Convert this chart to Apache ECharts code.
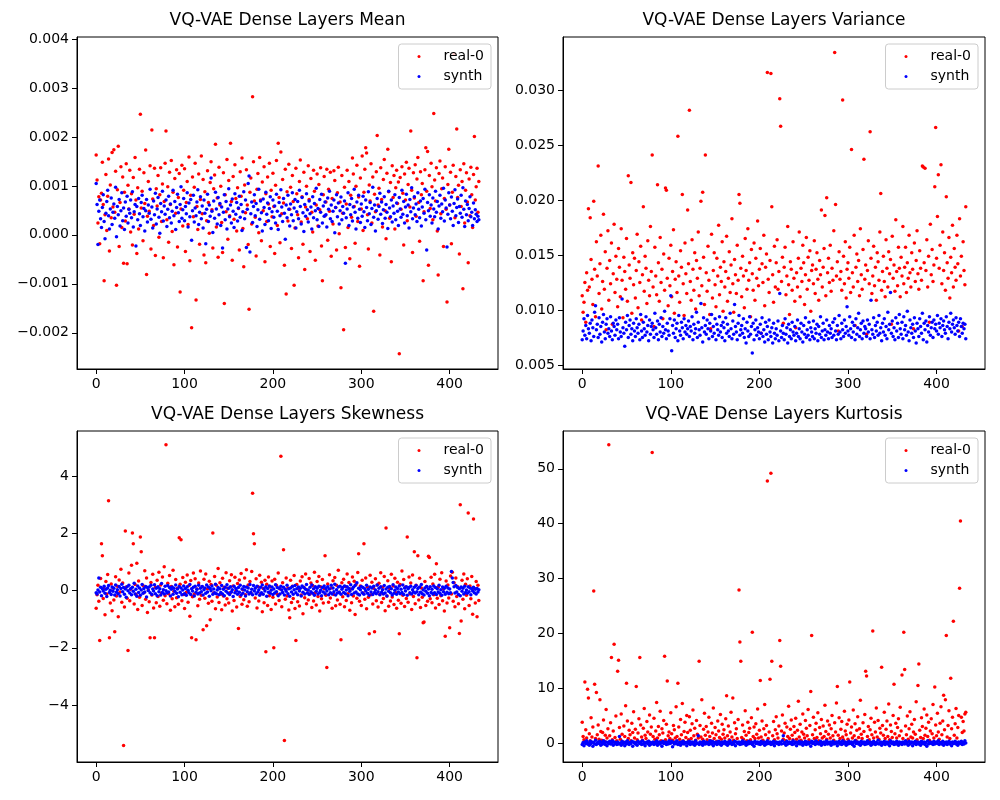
<!DOCTYPE html>
<html>
<head>
<meta charset="utf-8">
<script src="https://cdn.jsdelivr.net/npm/echarts@6/dist/echarts.min.js"></script>
<style>
  html, body { margin: 0; padding: 0; background: #fff; }
  #chart { width: 1000px; height: 800px; }
</style>
</head>
<body>
<div id="chart"></div>
<script>
// per-layer statistics, index = layer number
const meanReal = [
  0.00163, 0.00112, 0.00024, 0.00078, -0.00018, 0.00071, 0.00085, 0.00148, 0.00062, -0.00094, 0.00041, 0.00123, 0.00009, 0.00079, 0.00155, -0.00033, 0.00102, 0.00035, 0.00168, 0.00057,
  0.00174, 0.00046, 0.0013, -0.00103, 0.00092, 0.00181, -0.00024, 0.00066, 0.00139, 0.00015, 0.00118, -0.00058, 0.00087, 0.00028, 0.00145, -0.00059, 0.00101, 0.00053, 0.00132, 0.00006,
  0.00084, -0.00021, 0.00117, 0.00042, 0.00158, 0.00071, -0.00038, 0.00096, 0.00012, 0.00134, 0.00246, 0.00055, 0.00089, -0.00012, 0.00127, 0.00064, 0.00173, -0.00081, 0.00038, 0.00109,
  0.00048, 0.00141, -0.00029, 0.00214, 0.00073, 0.00019, 0.00136, -0.00042, 0.00094, 0.00059, 0.00121, -0.00005, 0.00082, 0.00137, 0.00027, 0.00104, -0.00047, 0.00068, 0.00146, 0.00212,
  0.00031, 0.00098, -0.00015, 0.00128, 0.00062, 0.00152, 0.00007, 0.00087, -0.00061, 0.00115, 0.00044, 0.00133, -0.00025, 0.00076, 0.00125, -0.00117, 0.00053, 0.00142, 0.00018, 0.00091,
  0.00135, -0.00034, 0.00066, 0.00109, 0.00021, 0.00159, -0.00053, 0.00081, -0.0019, 0.00118, 0.00037, 0.00097, 0.00146, -0.00133, 0.00058, 0.00011, 0.00124, -0.00019, 0.00072, 0.00161,
  0.00043, 0.00113, -0.00041, 0.00088, -0.00057, 0.00029, 0.00131, 0.00066, 0.00003, 0.00107, 0.00149, 0.00051, -0.00027, 0.00094, 0.00122, 0.00185, 0.00016, 0.00075, -0.00046, 0.00138,
  0.00061, 0.00099, 0.00025, -0.00036, 0.00127, -0.0014, 0.00082, 0.00047, 0.00154, -0.00009, 0.00111, 0.00039, 0.00187, 0.00068, -0.00052, 0.00119, 0.00032, 0.00143, 0.00074, 0.00008,
  0.00096, 0.00054, -0.00031, 0.00129, 0.00079, 0.00157, 0.00013, -0.00065, 0.00102, 0.00045, 0.00133, 0.00061, -0.0002, -0.00152, 0.00087, 0.00116, 0.00022, 0.00282, 0.00149, 0.00069,
  0.00036, -0.00043, 0.00093, 0.00125, 0.00004, 0.00158, 0.00071, -0.00012, 0.00108, 0.00049, 0.00139, -0.00055, 0.00084, 0.00027, 0.00118, 0.00063, 0.00146, -0.00024, 0.00091, 0.00037,
  0.00126, 0.00058, -0.00038, 0.00101, 0.00152, 0.00019, 0.00187, 0.00076, -0.00016, 0.00169, 0.00043, 0.00113, 0.00065, -0.00062, 0.00134, -0.00121, 0.00088, 0.00028, 0.00144, 0.00052,
  0.00097, -0.00028, 0.00121, 0.00068, -0.00103, 0.00014, 0.00136, 0.00084, 0.00041, -0.00047, 0.00109, 0.00153, 0.00026, 0.00078, -0.00019, 0.00128, -0.00071, 0.00057, 0.00099, 0.00033,
  0.00141, 0.00072, -0.00034, 0.00115, 0.00046, 0.00006, 0.00132, 0.00089, -0.00052, 0.00061, 0.00124, 0.00018, 0.00103, 0.00051, 0.00137, -0.00023, -0.00094, 0.00082, 0.00119, 0.00039,
  0.00067, 0.00134, -0.00011, 0.00093, 0.00048, 0.00128, -0.00044, 0.00074, 0.00022, 0.00131, 0.00111, 0.00056, -0.00031, 0.00086, 0.00138, 0.00002, 0.00067, -0.00108, 0.00121, 0.00044,
  -0.00194, 0.00097, -0.00026, 0.00063, 0.00132, 0.00015, 0.00109, -0.00049, 0.00081, 0.00036, 0.00157, 0.00124, 0.00058, -0.00017, 0.00099, 0.00142, 0.00027, 0.00077, -0.00064, 0.00116,
  0.00053, 0.00161, 0.00009, 0.00087, 0.00134, 0.00178, 0.00167, 0.00041, -0.00029, 0.00102, 0.00069, 0.00145, 0.00024, 0.00118, -0.00156, 0.00083, 0.00047, 0.00129, 0.00203, 0.00061,
  0.00095, -0.00041, 0.00137, 0.00072, 0.00016, 0.00113, 0.00154, 0.00049, -0.00008, 0.00126, 0.00175, 0.00088, 0.00034, 0.00107, -0.00055, 0.00141, 0.00076, 0.00121, 0.00012, 0.00096,
  0.00132, 0.00064, 0.00108, -0.00243, 0.00117, 0.00052, 0.00139, 0.00085, -0.00021, 0.00124, 0.00071, 0.00148, 0.00029, 0.00103, 0.00136, 0.00057, 0.00212, 0.00091, -0.00036, 0.00127,
  0.00075, 0.00143, 0.00038, 0.00114, 0.00158, 0.00066, -0.00013, 0.00129, 0.00082, 0.00105, -0.00094, 0.00047, 0.00133, 0.00178, 0.00089, 0.0017, -0.00062, 0.00121, 0.00054, 0.00146,
  0.00098, 0.00031, 0.00248, 0.00112, 0.00069, 0.00137, 0.00008, -0.00082, 0.00125, 0.00151, 0.00043, 0.00094, 0.00116, -0.00024, 0.00074, 0.00139, 0.00052, -0.00137, 0.00103, 0.00175,
  0.00061, 0.00128, -0.00018, 0.00087, 0.00142, 0.0037, 0.00035, 0.00119, 0.00216, 0.00076, 0.00101, -0.00039, 0.00133, 0.00058, 0.00109, -0.0011, 0.00145, 0.00024, 0.00091, 0.00127,
  0.00067, -0.00057, 0.00114, 0.00039, 0.00138, 0.00082, 0.00015, 0.00123, 0.00201, 0.00071, 0.00098, 0.00136, 0.00046, 0.00109
];
const meanSynth = [
  0.00105, 0.00062, -0.0002, 0.00048, 0.00071, 0.00033, 0.00015, 0.00056, 0.00082, 0.00027, -0.00008, 0.00044, 0.00068, 0.00091, 0.00039, 0.00012, 0.00053, 0.00075, 0.00021, 0.00046,
  0.00063, 0.00034, 0.00097, -0.00004, 0.00058, 0.00041, 0.00072, 0.00018, 0.00049, 0.00086, 0.00029, 0.00055, 0.00011, 0.00067, 0.00038, 0.00079, 0.00024, 0.00052, 0.00044, 0.00071,
  0.00035, 0.00088, 0.00016, 0.00047, 0.00062, -0.00023, 0.00058, 0.00031, 0.00074, 0.00043, 0.00019, 0.00066, 0.00081, 0.00037, 0.00054, 0.00008, 0.00049, 0.00072, 0.00026, 0.00061,
  0.00044, 0.00093, 0.00032, 0.00057, 0.00014, 0.00069, 0.00041, 0.00085, 0.00022, 0.00053, 0.00076, 0.00036, 0.00003, 0.00064, 0.00047, 0.00089, 0.00028, 0.00059, 0.00042, 0.00071,
  0.00017, 0.00052, 0.00079, 0.00035, 0.00063, 0.00024, 0.00048, 0.00091, 0.00039, 0.00068, 0.00011, 0.00056, 0.00083, 0.00045, 0.00027, 0.00062, 0.00098, 0.00034, 0.00051, 0.00074,
  0.00029, 0.00058, 0.00043, 0.00086, 0.00016, 0.00065, 0.00037, 0.00072, -0.00011, 0.00049, 0.00081, 0.00026, 0.00055, 0.00039, 0.00067, 0.00092, 0.00021, 0.00046, 0.00078, 0.00033,
  0.00059, 0.00014, 0.00071, 0.00044, -0.00018, 0.00052, 0.00083, 0.00027, 0.00061, 0.00038, 0.00116, 0.00048, 0.00005, 0.00069, 0.00034, 0.00087, 0.00053, 0.00022, 0.00076, 0.00041,
  0.00064, 0.00019, 0.00057, -0.00027, 0.00046, 0.00082, 0.00031, 0.00068, 0.00012, 0.00053, 0.00094, 0.00037, 0.00061, 0.00024, 0.00073, 0.00048, 0.00015, 0.00084, 0.00042, 0.00066,
  0.00028, 0.00055, 0.00079, 0.00036, 0.00062, 0.00009, 0.00047, 0.00088, 0.00033, 0.00071, -0.00026, 0.00052, 0.00105, 0.0012, -0.00035, 0.00043, 0.00067, 0.00025, 0.00058, 0.00082,
  0.00039, 0.00064, 0.00017, 0.00051, 0.00093, 0.00032, 0.00069, 0.00045, 0.00008, 0.00073, 0.00056, 0.00021, 0.00087, 0.00042, 0.00065, 0.00029, 0.00054, 0.00078, 0.00013, 0.00047,
  0.00071, 0.00036, 0.00059, 0.00024, 0.00083, 0.00048, 0.00011, 0.00066, 0.00039, 0.00092, 0.00057, 0.00027, 0.00074, 0.00044, -0.00009, 0.00061, 0.00035, 0.00081, 0.00052, 0.00018,
  0.00063, 0.00041, 0.00086, 0.00029, 0.00055, 0.00072, 0.00014, 0.00047, 0.00068, 0.00033, 0.00091, 0.00058, 0.00022, 0.00076, 0.00045, 0.00007, 0.00062, 0.00038, 0.00084, 0.00051,
  0.00026, 0.00069, 0.00043, 0.00057, 0.00012, 0.00078, 0.00035, 0.00064, 0.00049, 0.00095, 0.00031, 0.00054, 0.00017, 0.00072, 0.00046, 0.00083, 0.00024, 0.00059, 0.00038, 0.00067,
  0.00041, 0.00016, 0.00075, 0.00052, 0.00089, 0.00033, 0.00061, 0.00027, 0.00048, 0.00071, 0.00004, 0.00056, 0.00082, 0.00037, 0.00065, 0.00022, 0.00049, 0.00077, 0.00031, 0.00058,
  0.00044, 0.00069, -0.00058, 0.00035, 0.00053, 0.00086, 0.00019, 0.00062, 0.00041, 0.00074, 0.00028, 0.00057, 0.00093, 0.00046, 0.00012, 0.00067, 0.00034, 0.00081, 0.00052, 0.00025,
  0.00063, 0.00038, 0.00079, 0.00047, 0.00015, 0.00071, 0.00056, 0.00029, 0.00088, 0.00043, 0.00066, 0.00021, 0.00054, 0.00097, 0.00036, 0.00061, 0.00008, 0.00049, 0.00074, 0.00032,
  0.00058, 0.00085, 0.00042, 0.00067, 0.00023, 0.00051, 0.00078, 0.00034, 0.00062, 0.00046, 0.00013, 0.00089, 0.00055, 0.00037, 0.00071, 0.00026, 0.00059, 0.00044, 0.00082, 0.00031,
  0.00065, 0.00048, 0.00019, 0.00076, 0.00053, 0.00036, 0.00091, 0.00042, 0.00068, 0.00024, 0.00057, 0.00083, 0.00039, 0.00061, 0.00014, 0.00072, 0.00047, 0.00096, 0.00033, 0.00055,
  0.00078, 0.00041, 0.00063, 0.00027, 0.00086, 0.00052, 0.00035, 0.00069, 0.00018, 0.00057, 0.00074, 0.00044, 0.00093, 0.00031, -0.00031, 0.00066, 0.00049, 0.00082, 0.00038, 0.00061,
  0.00024, 0.00075, 0.00053, 0.00037, 0.00089, 0.00046, 0.00068, 0.00012, 0.00059, 0.00081, 0.00034, 0.00063, 0.00047, 0.00095, 0.00028, 0.00071, 0.00055, -0.00025, 0.00042, 0.00086,
  0.00061, 0.00033, 0.00077, 0.00048, 0.00019, 0.00064, 0.00092, 0.00039, 0.00056, 0.00073, 0.00025, 0.00058, 0.00044, 0.00081, 0.00036, 0.00096, 0.00052, 0.00017, 0.00069, 0.00041,
  0.00062, 0.00029, 0.00054, 0.00078, 0.00037, 0.00046, 0.00019, 0.00065, 0.00033, 0.00051, 0.00042, 0.00027, 0.00038, 0.00031
];
const varReal = [
  0.0113, 0.0098, 0.0107, 0.0125, 0.0089, 0.0134, 0.0118, 0.0192, 0.0121, 0.0184, 0.0146, 0.0128, 0.0105, 0.0199, 0.0137, 0.0094, 0.0162, 0.0131, 0.0231, 0.0115,
  0.0142, 0.0168, 0.0101, 0.0126, 0.0187, 0.0119, 0.0153, 0.0082, 0.0138, 0.0172, 0.0109, 0.0145, 0.0124, 0.0161, 0.0087, 0.0133, 0.0178, 0.0116, 0.0149, 0.0128,
  0.0103, 0.0156, 0.0139, 0.0112, 0.0174, 0.0127, 0.0093, 0.0148, 0.0135, 0.0119, 0.0165, 0.0108, 0.0222, 0.0141, 0.0129, 0.0216, 0.0097, 0.0152, 0.0123, 0.0147,
  0.0111, 0.0136, 0.0169, 0.0102, 0.0144, 0.0125, 0.0158, 0.0091, 0.0132, 0.0194, 0.0117, 0.0149, 0.0138, 0.0106, 0.0163, 0.0127, 0.0113, 0.0176, 0.0135, 0.0241,
  0.0121, 0.0085, 0.0157, 0.0131, 0.0114, 0.0214, 0.0143, 0.0108, 0.0166, 0.0125, 0.0137, 0.0092, 0.0151, 0.0118, 0.0211, 0.0209, 0.0129, 0.0104, 0.0147, 0.0122,
  0.0159, 0.0112, 0.0135, 0.0173, 0.0097, 0.0128, 0.0144, 0.0116, 0.0258, 0.0131, 0.0107, 0.0154, 0.0139, 0.0205, 0.0124, 0.0095, 0.0161, 0.0133, 0.0115, 0.0191,
  0.0142, 0.02815, 0.0126, 0.0109, 0.0164, 0.0137, 0.0118, 0.0152, 0.0101, 0.0145, 0.0129, 0.0171, 0.0113, 0.0138, 0.0199, 0.0122, 0.0207, 0.0148, 0.0105, 0.0241,
  0.0134, 0.0117, 0.0158, 0.0127, 0.0096, 0.0083, 0.0169, 0.0111, 0.0136, 0.0152, 0.0123, 0.0103, 0.0147, 0.0131, 0.0177, 0.0114, 0.0139, 0.0126, 0.0162, 0.0099,
  0.0144, 0.0121, 0.0135, 0.0167, 0.0108, 0.0129, 0.0153, 0.0116, 0.0141, 0.0183, 0.0124, 0.0098, 0.0146, 0.0132, 0.0115, 0.0159, 0.0127, 0.0205, 0.0197, 0.0138,
  0.0112, 0.0149, 0.0131, 0.0102, 0.0165, 0.0136, 0.0119, 0.0174, 0.0127, 0.0143, 0.0094, 0.0155, 0.0133, 0.0118, 0.0161, 0.0109, 0.0147, 0.0129, 0.0181, 0.0122,
  0.0137, 0.0156, 0.0079, 0.0142, 0.0125, 0.0168, 0.0104, 0.0139, 0.0151, 0.0316, 0.0128, 0.0116, 0.0145, 0.0315, 0.0194, 0.0132, 0.0107, 0.0158, 0.0121, 0.0143,
  0.0164, 0.0119, 0.0135, 0.0292, 0.0267, 0.0126, 0.0148, 0.0088, 0.0139, 0.0157, 0.0114, 0.0131, 0.0176, 0.0123, 0.0096, 0.0144, 0.0137, 0.0118, 0.0162, 0.0129,
  0.0108, 0.0084, 0.0134, 0.0121, 0.0147, 0.0171, 0.0112, 0.0138, 0.0126, 0.0159, 0.0143, 0.0105, 0.0132, 0.0166, 0.0119, 0.0148, 0.0127, 0.0154, 0.0099, 0.0136,
  0.0141, 0.0124, 0.0163, 0.0115, 0.0137, 0.0152, 0.0128, 0.0109, 0.0145, 0.0132, 0.0191, 0.0121, 0.0139, 0.0156, 0.0186, 0.0113, 0.0202, 0.0134, 0.0147, 0.0125,
  0.0159, 0.0117, 0.0138, 0.0127, 0.0172, 0.0334, 0.0196, 0.0131, 0.0144, 0.0081, 0.0153, 0.0128, 0.0135, 0.0118, 0.0291, 0.0149, 0.0124, 0.0162, 0.0111, 0.0137,
  0.0143, 0.0129, 0.0157, 0.0116, 0.0246, 0.0134, 0.0121, 0.0168, 0.0086, 0.0139, 0.0151, 0.0126, 0.0145, 0.0113, 0.0174, 0.0132, 0.0119, 0.0155, 0.0237, 0.0128,
  0.0141, 0.0078, 0.0136, 0.0163, 0.0124, 0.0262, 0.0147, 0.0115, 0.0131, 0.0158, 0.0122, 0.0139, 0.0109, 0.0152, 0.0144, 0.0127, 0.0171, 0.0206, 0.0118, 0.0135,
  0.0149, 0.0126, 0.0112, 0.0164, 0.0138, 0.0121, 0.0153, 0.0133, 0.0146, 0.0087, 0.0167, 0.0129, 0.0141, 0.0117, 0.0182, 0.0135, 0.0122, 0.0157, 0.0138, 0.0112,
  0.0148, 0.0131, 0.0176, 0.0124, 0.0139, 0.0157, 0.0116, 0.0143, 0.0129, 0.0168, 0.0134, 0.0121, 0.0152, 0.0137, 0.0083, 0.0161, 0.0126, 0.0145, 0.0172, 0.0133,
  0.0119, 0.0154, 0.0138, 0.0127, 0.0231, 0.0230, 0.0143, 0.0229, 0.0136, 0.0164, 0.0121, 0.0149, 0.0089, 0.0178, 0.0132, 0.0155, 0.0126, 0.0141, 0.0212, 0.0266,
  0.0147, 0.0185, 0.0223, 0.0138, 0.0159, 0.0232, 0.0124, 0.0171, 0.0136, 0.0152, 0.0118, 0.0203, 0.0143, 0.0129, 0.0166, 0.0111, 0.0148, 0.0134, 0.0177, 0.0121,
  0.0156, 0.0139, 0.0127, 0.0168, 0.0142, 0.0081, 0.0183, 0.0131, 0.0149, 0.0085, 0.0162, 0.0136, 0.0123, 0.0194
];
const varSynth = [
  0.0073, 0.0081, 0.0092, 0.0077, 0.0086, 0.0074, 0.0095, 0.0083, 0.0079, 0.0088, 0.0072, 0.0091, 0.0084, 0.0076, 0.0098, 0.0104, 0.0082, 0.0087, 0.0075, 0.0093,
  0.0078, 0.0085, 0.0071, 0.0089, 0.0096, 0.0080, 0.0074, 0.0087, 0.0092, 0.0079, 0.0083, 0.0076, 0.0094, 0.0081, 0.0073, 0.0088, 0.0085, 0.0077, 0.0091, 0.0082,
  0.0087, 0.0074, 0.0093, 0.0080, 0.0076, 0.0110, 0.0084, 0.0079, 0.0067, 0.0089, 0.0082, 0.0095, 0.0075, 0.0086, 0.0091, 0.0078, 0.0083, 0.0072, 0.0088, 0.0081,
  0.0076, 0.0092, 0.0084, 0.0079, 0.0087, 0.0073, 0.0096, 0.0081, 0.0075, 0.0089, 0.0083, 0.0077, 0.0094, 0.0080, 0.0086, 0.0072, 0.0091, 0.0078, 0.0085, 0.0088,
  0.0082, 0.0075, 0.0097, 0.0084, 0.0078, 0.0090, 0.0073, 0.0087, 0.0080, 0.0093, 0.0076, 0.0085, 0.0079, 0.0099, 0.0082, 0.0074, 0.0088, 0.0081, 0.0077, 0.0092,
  0.0113, 0.0063, 0.0086, 0.0079, 0.0091, 0.0075, 0.0083, 0.0088, 0.0072, 0.0095, 0.0081, 0.0077, 0.0089, 0.0084, 0.0074, 0.0092, 0.0080, 0.0086, 0.0078, 0.0083,
  0.0090, 0.0076, 0.0085, 0.0081, 0.0094, 0.0073, 0.0087, 0.0079, 0.0083, 0.0098, 0.0075, 0.0089, 0.0082, 0.0077, 0.0106, 0.0084, 0.0071, 0.0093, 0.0080, 0.0086,
  0.0078, 0.0091, 0.0083, 0.0074, 0.0088, 0.0081, 0.0096, 0.0076, 0.0085, 0.0079, 0.0092, 0.0073, 0.0087, 0.0082, 0.0077, 0.0094, 0.0080, 0.0086, 0.0075, 0.0089,
  0.0084, 0.0072, 0.0093, 0.0079, 0.0087, 0.0081, 0.0076, 0.0097, 0.0083, 0.0074, 0.0090, 0.0078, 0.0105, 0.0085, 0.0080, 0.0073, 0.0088, 0.0095, 0.0077, 0.0082,
  0.0086, 0.0079, 0.0092, 0.0075, 0.0083, 0.0070, 0.0089, 0.0081, 0.0076, 0.0094, 0.0078, 0.0085, 0.0061, 0.0088, 0.0073, 0.0082, 0.0091, 0.0077, 0.0084, 0.0080,
  0.0074, 0.0087, 0.0079, 0.0093, 0.0076, 0.0082, 0.0071, 0.0089, 0.0078, 0.0085, 0.0073, 0.0091, 0.0080, 0.0076, 0.0084, 0.0070, 0.0088, 0.0079, 0.0074, 0.0083,
  0.0077, 0.0090, 0.0072, 0.0115, 0.0081, 0.0075, 0.0086, 0.0079, 0.0073, 0.0092, 0.0078, 0.0084, 0.0070, 0.0087, 0.0076, 0.0082, 0.0074, 0.0089, 0.0080, 0.0077,
  0.0085, 0.0072, 0.0079, 0.0091, 0.0076, 0.0083, 0.0074, 0.0088, 0.0080, 0.0071, 0.0086, 0.0078, 0.0093, 0.0075, 0.0082, 0.0077, 0.0089, 0.0073, 0.0084, 0.0080,
  0.0076, 0.0090, 0.0074, 0.0083, 0.0079, 0.0087, 0.0072, 0.0085, 0.0078, 0.0094, 0.0075, 0.0081, 0.0088, 0.0073, 0.0082, 0.0077, 0.0091, 0.0080, 0.0074, 0.0086,
  0.0079, 0.0083, 0.0075, 0.0089, 0.0077, 0.0092, 0.0081, 0.0073, 0.0086, 0.0078, 0.0095, 0.0080, 0.0074, 0.0088, 0.0082, 0.0076, 0.0091, 0.0079, 0.0085, 0.0103,
  0.0081, 0.0077, 0.0094, 0.0083, 0.0075, 0.0089, 0.0080, 0.0086, 0.0073, 0.0092, 0.0078, 0.0084, 0.0097, 0.0076, 0.0082, 0.0088, 0.0074, 0.0090, 0.0079, 0.0085,
  0.0083, 0.0076, 0.0091, 0.0080, 0.0087, 0.0074, 0.0109, 0.0082, 0.0078, 0.0093, 0.0075, 0.0086, 0.0081, 0.0089, 0.0077, 0.0095, 0.0079, 0.0084, 0.0072, 0.0088,
  0.0080, 0.0092, 0.0077, 0.0085, 0.0074, 0.0098, 0.0082, 0.0087, 0.0116, 0.0079, 0.0090, 0.0076, 0.0084, 0.0073, 0.0093, 0.0081, 0.0088, 0.0075, 0.0096, 0.0083,
  0.0078, 0.0089, 0.0074, 0.0094, 0.0082, 0.0086, 0.0077, 0.0099, 0.0080, 0.0072, 0.0091, 0.0084, 0.0079, 0.0087, 0.0075, 0.0093, 0.0081, 0.0070, 0.0088, 0.0083,
  0.0076, 0.0092, 0.0085, 0.0079, 0.0097, 0.0073, 0.0088, 0.0082, 0.0090, 0.0071, 0.0086, 0.0080, 0.0094, 0.0077, 0.0084, 0.0089, 0.0075, 0.0091, 0.0083, 0.0087,
  0.0081, 0.0095, 0.0078, 0.0088, 0.0084, 0.0092, 0.0076, 0.0086, 0.0090, 0.0082, 0.0079, 0.0094, 0.0085, 0.0074, 0.0089, 0.0083, 0.0097, 0.0080, 0.0087, 0.0091,
  0.0084, 0.0078, 0.0093, 0.0086, 0.0081, 0.0089, 0.0076, 0.0092, 0.0085, 0.0079, 0.0088, 0.0083, 0.0087, 0.0074
];
const skewReal = [
  -0.62, -0.15, 0.18, -0.38, -1.75, 0.42, 1.63, 1.21, -0.28, 0.07, -0.85, 0.31, -0.12, 0.56, 3.13, -1.65, -0.44, 0.23, -0.71, 0.09,
  -0.33, -1.44, 0.48, -0.19, 0.15, -0.92, 0.37, -0.05, 0.74, -0.41, 0.26, -5.41, -0.58, 2.08, 0.12, -0.27, -2.10, 0.61, -0.36, 0.04,
  0.88, 2.01, 1.63, -0.47, 0.21, -0.13, 0.95, -0.66, 0.33, -0.24, 1.87, 1.35, -0.52, 0.17, -0.08, 0.69, -0.31, 0.44, -0.77, 0.02,
  -0.39, -1.65, 0.28, -0.16, 0.57, -0.61, -1.65, 0.11, -0.43, 0.36, -0.21, 0.64, -0.55, 0.19, -0.09, 0.47, -0.34, 0.83, -0.18, 5.09,
  -0.46, 0.25, -0.11, 0.52, -0.69, 0.14, -0.29, 0.71, -0.03, -0.57, 0.38, -0.25, 0.08, -0.48, 1.84, 0.22, 1.77, -0.36, 0.45, -0.14,
  -0.63, 0.29, -0.06, 0.54, -0.41, 0.17, -0.9, 0.35, -1.65, -0.22, 0.61, -0.12, 0.41, -1.72, 0.05, -0.53, 0.26, -0.31, 0.68, -0.17,
  0.13, -1.37, 0.39, -0.27, 0.58, -1.23, 0.06, -0.45, 0.32, -1.02, 0.21, -0.38, 2.01, -0.09, 0.49, -0.64, 0.18, -0.23, 0.77, -0.42,
  0.27, -0.13, -0.67, 0.43, -0.19, 0.11, -0.51, 0.62, -0.29, 0.08, -0.44, 0.34, -0.07, 0.55, -0.72, 0.16, -0.35, 0.46, -0.02, -0.58,
  0.24, -1.33, 0.37, -0.21, 0.59, -0.48, 0.03, -0.32, 0.44, -0.15, 0.72, -0.55, 0.19, -0.39, 0.31, -0.08, 0.66, 3.40, 1.98, 1.63,
  -0.26, 0.41, -0.61, 0.14, -0.37, 0.53, -0.11, 0.29, -0.74, 0.07, -0.43, 0.36, -2.14, 0.22, -0.52, 0.47, -0.18, 0.12, -0.66, 0.33,
  -0.24, -2.0, 0.39, -0.47, 0.18, -0.13, 0.61, -0.35, 0.05, 4.69, -0.57, 0.27, 1.42, -5.24, -0.31, 0.44, -0.19, 0.09, -0.68, -0.95,
  0.36, -0.42, 0.15, -0.28, 0.52, -0.63, -1.75, 0.21, -0.39, 0.07, -0.54, 0.33, -0.16, 0.48, -0.81, 0.11, -0.25, 0.58, -0.46, 0.02,
  -0.33, 0.42, -0.12, 0.26, -0.59, 0.17, -0.37, 0.64, -0.08, -0.51, 0.31, -0.21, 0.49, -0.72, 0.13, -0.29, 0.38, -0.44, 0.06, 1.21,
  -0.17, -2.69, 0.23, -0.41, 0.55, -0.26, 0.09, -0.62, 0.34, -0.14, 0.45, -0.53, 0.18, -0.33, 0.71, -0.06, -0.48, -1.72, 0.27, -0.22,
  0.39, -0.57, 0.14, -0.35, 0.58, -0.11, 0.28, -0.69, 0.05, -0.43, 0.47, -0.19, 0.32, -0.84, 0.21, -0.27, 0.63, 1.28, -0.38, 0.16,
  -0.52, 0.36, -0.09, 1.63, -0.31, 0.44, -0.64, 0.12, -0.24, -1.51, 0.53, -0.15, 0.29, -0.47, 0.08, -1.44, 0.41, -0.36, 0.19, -0.58,
  0.25, -0.13, 0.62, -0.42, 0.11, -0.28, 0.49, -0.71, 2.18, -0.19, 0.34, -0.55, 0.07, -0.37, 0.57, -0.23, 0.16, -0.49, 0.43, -0.08,
  -0.62, 0.29, -0.34, -1.51, 0.21, -0.45, 0.68, -0.17, 0.38, -0.56, 0.12, -0.28, 1.87, -0.41, 0.47, -0.12, 0.26, -0.66, 0.54, -0.21,
  1.35, -0.46, 0.18, -2.35, 1.21, -0.33, 0.43, -0.59, 0.09, -0.24, -1.13, -1.1, 0.31, -0.52, 0.14, -0.38, 1.2, 1.15, -0.29, 0.46,
  -0.43, 0.23, -0.15, 0.57, -0.61, 0.93, -0.27, 0.11, -0.49, 0.39, -0.18, 0.62, -0.36, 0.05, -0.72, -1.6, 0.33, -0.44, 0.19, -0.26,
  -1.3, 0.51, -0.12, 0.64, -0.38, 0.27, -0.57, 0.44, -0.21, 0.13, -0.46, -1.5, 2.99, -1.07, 0.36, -0.31, 0.58, -0.64, 0.22, -0.17,
  0.41, 2.71, -0.52, 0.16, -0.29, 0.49, -0.83, 2.50, 0.07, -0.44, 0.31, -0.92, 0.18, -0.35
];
const skewSynth = [
  -0.08, -0.12, 0.02, 0.44, -0.05, 0.11, -0.18, 0.06, -0.02, 0.15, -0.1, 0.04, -0.21, 0.09, 0.17, -0.07, 0.01, -0.14, 0.12, -0.03,
  0.08, -0.16, 0.19, -0.06, 0.03, -0.11, 0.14, -0.19, 0.07, 0.22, -0.04, 0.1, -0.13, 0.05, -0.24, 0.13, -0.01, 0.18, -0.09, 0.06,
  -0.15, 0.11, -0.03, 0.25, -0.12, 0.04, -0.2, 0.16, -0.07, 0.09, -0.17, 0.02, 0.21, -0.1, 0.07, -0.05, 0.14, -0.23, 0.1, 0.0,
  0.12, -0.08, 0.18, -0.14, 0.05, -0.02, 0.2, -0.11, 0.08, -0.18, 0.13, -0.04, 0.06, -0.16, 0.24, -0.07, 0.03, -0.12, 0.15, -0.01,
  -0.09, 0.17, -0.05, 0.1, -0.19, 0.04, 0.12, -0.13, 0.08, -0.03, 0.19, -0.1, 0.05, -0.22, 0.14, -0.06, 0.09, -0.15, 0.02, 0.16,
  -0.11, 0.07, -0.17, 0.13, 0.01, -0.08, 0.21, -0.14, 0.06, -0.02, 0.11, -0.19, 0.15, -0.06, 0.04, -0.12, 0.18, -0.09, 0.08, -0.04,
  0.14, -0.16, 0.03, 0.09, -0.1, 0.19, -0.05, 0.12, -0.2, 0.07, -0.01, 0.16, -0.13, 0.05, -0.08, 0.22, -0.11, 0.02, 0.1, -0.15,
  0.06, -0.07, 0.17, -0.12, 0.04, -0.18, 0.11, -0.03, 0.2, -0.09, 0.08, -0.14, 0.13, -0.05, 0.03, -0.21, 0.15, -0.08, 0.07, -0.01,
  -0.13, 0.1, -0.06, 0.18, -0.16, 0.05, -0.1, 0.14, 0.02, -0.19, 0.12, -0.04, 0.09, -0.12, 0.21, -0.07, 0.04, -0.15, 0.17, -0.02,
  0.08, -0.11, 0.15, -0.05, 0.03, -0.17, 0.11, -0.08, 0.19, -0.13, 0.06, -0.02, 0.13, -0.2, 0.07, -0.06, 0.16, -0.1, 0.01, 0.12,
  -0.14, 0.05, -0.09, 0.2, -0.04, 0.1, -0.18, 0.08, -0.12, 0.15, 0.02, -0.07, 0.11, -0.16, 0.04, -0.03, 0.18, -0.11, 0.06, -0.2,
  0.09, -0.05, 0.14, -0.13, 0.03, 0.17, -0.08, 0.06, -0.15, 0.12, -0.02, 0.08, -0.19, 0.16, -0.06, 0.1, -0.12, 0.04, 0.21, -0.09,
  0.02, -0.14, 0.11, -0.04, 0.19, -0.1, 0.06, -0.17, 0.13, -0.03, 0.08, -0.12, 0.15, -0.07, 0.01, -0.18, 0.1, -0.05, 0.16, -0.11,
  0.07, -0.02, 0.13, -0.15, 0.05, -0.08, 0.18, -0.12, 0.09, -0.04, 0.22, -0.16, 0.03, -0.09, 0.12, -0.06, 0.15, -0.13, 0.04, 0.1,
  -0.07, 0.16, -0.11, 0.02, 0.13, -0.18, 0.07, -0.03, 0.2, -0.14, 0.05, 0.11, -0.09, 0.17, -0.05, 0.27, -0.12, 0.08, -0.16, 0.03,
  0.14, -0.08, 0.1, -0.13, 0.06, -0.02, 0.18, -0.1, 0.04, -0.17, 0.12, -0.05, 0.09, -0.14, 0.15, -0.07, 0.02, -0.11, 0.19, -0.04,
  0.08, -0.15, 0.13, -0.06, 0.03, -0.12, 0.17, -0.09, 0.05, -0.19, 0.11, -0.03, 0.14, -0.08, 0.06, -0.16, 0.2, -0.1, 0.01, 0.12,
  -0.13, 0.07, -0.05, 0.16, -0.11, 0.04, -0.07, 0.19, -0.14, 0.09, -0.02, 0.13, -0.17, 0.06, 0.1, -0.08, 0.15, -0.12, 0.03, -0.05,
  0.11, -0.09, 0.17, -0.04, 0.07, -0.15, 0.12, -0.06, 0.21, -0.11, 0.02, -0.16, 0.09, -0.03, 0.14, -0.1, 0.05, -0.18, 0.13, -0.07,
  0.04, -0.12, 0.16, -0.08, 0.1, -0.14, 0.06, -0.05, 0.18, -0.1, 0.03, -0.17, 0.12, -0.04, 0.08, -0.13, 0.15, -0.06, 0.09, -0.11,
  0.05, -0.08, 0.66, 0.44, 0.28, 0.13, -0.09, 0.17, -0.05, 0.1, -0.14, 0.06, -0.18, 0.12, -0.03, 0.08, -0.12, 0.15, -0.07, 0.02,
  -0.1, 0.13, -0.04, 0.09, -0.15, 0.06, -0.02, 0.11, -0.08, 0.04, -0.12, 0.07, -0.05, 0.03
];
const kurtReal = [
  3.8, 1.2, 0.6, 11.1, 2.4, 0.9, 9.8, 8.2, 1.7, 0.4, 4.6, 1.1, 2.9, 27.7, 10.7, 0.8, 9.2, 1.5, 3.3, 0.7,
  7.9, 2.1, 0.5, 1.9, 4.2, 0.3, 1.4, 6.1, 0.9, 2.6, 54.4, 1.3, 3.7, 15.6, 0.6, 2.2, 18.0, 1.0, 4.9, 0.4,
  13.1, 15.1, 2.8, 0.7, 5.3, 1.6, 0.2, 3.1, 1.2, 6.8, 10.9, 4.0, 0.8, 2.3, 1.5, 0.4, 3.6, 1.9, 5.7, 0.9,
  2.5, 10.3, 0.6, 1.8, 4.4, 15.6, 3.3, 1.1, 0.5, 2.7, 6.3, 1.4, 0.8, 3.9, 2.0, 0.3, 5.1, 1.6, 2.9, 53.0,
  1.2, 4.5, 0.7, 2.2, 7.4, 0.9, 3.0, 1.5, 5.8, 0.4, 2.6, 1.8, 4.1, 15.8, 0.6, 3.4, 11.3, 1.3, 2.0, 0.8,
  5.5, 1.7, 0.5, 3.2, 2.4, 0.9, 6.6, 1.2, 10.9, 2.9, 0.7, 4.3, 1.5, 7.2, 0.4, 2.1, 3.8, 1.0, 5.0, 1.9,
  0.6, 4.8, 2.3, 0.8, 3.5, 6.0, 1.3, 2.7, 0.5, 4.1, 1.6, 0.9, 14.9, 3.2, 1.1, 7.9, 0.7, 2.5, 5.4, 1.4,
  3.0, 0.6, 2.0, 4.7, 1.2, 0.4, 3.6, 1.8, 6.4, 0.8, 2.8, 1.5, 0.3, 4.0, 2.2, 1.0, 5.2, 0.7, 3.4, 1.6,
  2.4, 0.9, 4.4, 8.6, 1.3, 3.1, 0.6, 2.0, 5.6, 1.1, 8.2, 0.5, 3.7, 1.7, 2.6, 0.8, 4.3, 27.9, 18.4, 14.9,
  1.0, 3.3, 0.7, 2.1, 5.9, 1.4, 0.4, 3.8, 1.9, 2.7, 0.6, 4.6, 20.2, 1.2, 2.9, 0.8, 3.5, 1.6, 6.2, 0.9,
  2.3, 11.4, 1.1, 4.0, 0.5, 2.6, 7.0, 1.5, 3.2, 47.8, 0.8, 2.0, 11.6, 49.2, 14.9, 1.3, 3.9, 0.6, 2.4, 4.8,
  1.7, 0.9, 3.1, 18.7, 14.0, 2.2, 5.1, 0.7, 1.8, 3.6, 0.4, 2.9, 1.2, 6.7, 0.8, 2.5, 4.2, 1.4, 0.6, 3.0,
  1.9, 4.5, 0.7, 2.3, 7.6, 1.1, 3.4, 0.5, 2.0, 5.3, 1.6, 0.9, 4.1, 2.7, 1.3, 6.1, 0.6, 3.2, 9.4, 19.6,
  1.5, 4.7, 0.8, 2.4, 3.6, 1.0, 5.5, 0.4, 2.8, 1.7, 4.3, 0.9, 3.1, 1.2, 6.9, 2.1, 0.7, 4.0, 1.6, 3.3,
  0.9, 2.6, 5.0, 1.3, 0.5, 3.7, 2.0, 7.3, 10.3, 1.4, 4.6, 0.8, 2.5, 3.9, 1.1, 0.6, 5.8, 2.2, 1.5, 3.4,
  0.7, 4.2, 11.1, 1.8, 2.9, 0.9, 6.0, 1.3, 3.5, 0.5, 2.3, 4.8, 1.0, 2.6, 7.8, 1.6, 0.8, 3.7, 2.1, 5.2,
  13.1, 12.2, 1.2, 3.0, 0.6, 2.4, 4.5, 1.5, 20.4, 0.9, 3.8, 2.0, 6.4, 1.1, 4.1, 0.7, 2.7, 1.8, 13.8, 3.2,
  1.4, 5.6, 0.8, 2.5, 4.0, 1.2, 7.1, 0.6, 3.3, 2.1, 1.0, 5.0, 10.7, 1.7, 3.6, 0.9, 2.8, 4.4, 1.3, 6.5,
  2.2, 12.4, 0.8, 20.2, 13.4, 3.1, 1.5, 4.9, 0.7, 2.6, 5.7, 1.1, 3.4, 0.9, 2.0, 4.3, 1.6, 7.5, 0.6, 10.5,
  14.4, 2.3, 1.0, 4.6, 3.0, 0.8, 6.2, 1.4, 2.7, 5.1, 1.2, 3.8, 0.5, 2.2, 4.4, 1.7, 7.0, 0.9, 10.2, 3.3,
  1.3, 5.4, 2.0, 0.7, 3.6, 6.6, 1.5, 4.0, 8.7, 2.4, 7.9, 19.6, 1.1, 3.2, 5.9, 0.8, 11.8, 2.6, 4.7, 22.2,
  1.4, 3.5, 6.3, 0.9, 2.8, 5.0, 28.2, 40.5, 4.7, 1.9, 3.9, 2.2, 5.3, 5.6
];
const kurtSynth = [
  -0.3, 0.1, -0.5, 0.2, -0.1, 0.4, -0.2, 0.0, -0.4, 0.3, -0.1, 0.2, -0.6, 0.1, -0.2, 0.5, -0.3, 0.0, 0.2, -0.1,
  0.3, -0.4, 0.1, -0.2, 0.4, 0.0, -0.3, 0.2, -0.5, 0.1, -0.1, 0.3, -0.2, 0.0, 0.4, -0.4, 0.2, -0.1, 0.1, -0.3,
  0.2, -0.2, 1.2, 0.0, -0.4, 0.3, -0.1, 0.1, -0.5, 0.2, -0.2, 0.4, 0.0, -0.3, 0.1, -0.1, 0.3, -0.6, 0.2, 0.0,
  -0.2, 0.1, -0.4, 0.3, 0.0, -0.1, 0.2, -0.3, 0.4, -0.2, 0.1, -0.5, 0.0, 0.2, -0.1, 0.3, -0.4, 0.1, -0.2, 0.0,
  0.2, -0.3, 0.1, -0.1, 0.4, -0.4, 0.0, 0.2, -0.2, 0.1, -0.6, 0.3, -0.1, 0.0, 0.2, -0.3, 0.1, -0.2, 0.4, -0.1,
  0.0, 0.3, -0.7, 0.1, -0.2, 0.2, -0.1, 0.4, -0.3, 0.0, 0.1, -0.4, 0.2, -0.1, 0.3, -0.2, 0.0, 0.1, -0.5, 0.2,
  -0.1, 0.3, -0.3, 0.0, 0.2, -0.2, 0.1, -0.4, 0.4, -0.1, 0.0, 1.3, -0.3, 0.2, -0.1, 0.1, -0.4, 0.3, 0.0, -0.2,
  0.2, -0.1, 0.1, -0.3, 0.4, 0.0, -0.2, 0.3, -0.5, 0.1, -0.1, 0.2, -0.3, 0.0, 0.3, -0.2, 0.1, -0.4, 0.2, -0.1,
  0.0, 0.3, -0.2, 0.1, -0.4, 0.2, -0.1, 0.4, 0.0, -0.3, 0.1, -0.2, 0.3, -0.5, 0.2, 0.0, -0.1, 0.2, -0.3, 0.1,
  -0.2, 0.4, -0.1, 0.0, 0.2, -0.4, 0.1, -0.2, 0.3, -0.1, 0.0, 0.2, -0.3, 0.1, -0.6, 0.3, -0.1, 0.0, 0.2, -0.2,
  0.1, -0.3, 0.3, -0.1, 0.0, 0.2, -0.4, 0.1, -0.2, 0.4, -0.1, 0.0, 0.2, -0.3, 0.1, -0.2, 0.3, -0.5, 0.0, 0.2,
  -0.1, 0.1, -0.3, 0.2, 0.0, -0.2, 0.4, 1.3, -0.1, 0.1, -0.4, 0.3, -0.2, 0.0, 0.2, -0.1, 0.1, -0.3, 0.4, -0.2,
  0.0, 0.2, -0.5, 0.1, -0.1, 0.3, -0.2, 0.0, 0.2, -0.4, 0.1, -0.1, 0.3, -0.3, 0.0, 0.2, -0.2, 0.1, -0.6, 0.3,
  -0.1, 0.0, 0.2, -0.3, 0.4, -0.1, 0.1, -0.2, 0.0, 0.3, -0.4, 0.1, -0.1, 0.2, -0.3, 0.0, 0.4, -0.2, 0.1, -0.1,
  0.2, -0.4, 0.0, 0.3, -0.2, 0.1, -0.1, 0.2, -0.5, 0.0, 0.3, -0.2, 0.1, -0.3, 0.4, -0.1, 0.0, 0.2, -0.4, 0.1,
  -0.2, 0.3, -0.1, 0.0, 0.2, -0.3, 0.1, -0.6, 0.4, -0.1, 0.0, 0.2, -0.2, 0.1, -0.4, 0.3, -0.1, 0.0, 0.2, -0.3,
  0.1, -0.2, 0.4, -0.1, 0.0, 0.2, -0.4, 0.1, -0.2, 0.3, 0.0, -0.3, 0.1, -0.1, 0.5, -0.2, 0.0, 0.2, -0.4, 0.1,
  -0.1, 0.3, -0.3, 0.0, 0.2, -0.2, 0.1, -0.5, 0.4, 0.0, -0.1, 0.2, -0.3, 0.1, -0.2, 0.3, 0.0, -0.4, 0.2, -0.1,
  0.1, -0.3, 0.2, 0.0, -0.2, 0.4, -0.1, 0.1, -0.4, 0.3, -0.2, 0.0, 0.2, -0.5, 0.1, -0.1, 0.3, -0.3, 0.0, 0.2,
  -0.2, 0.1, -0.4, 0.3, 0.0, -0.1, 0.2, -0.3, 0.1, -0.6, 0.4, -0.2, 0.0, 0.2, -0.1, 0.1, -0.3, 0.3, -0.2, 0.0,
  0.2, -0.1, 0.4, -0.3, 0.1, 0.0, -0.2, 0.3, -0.4, 0.1, -0.1, 0.2, -0.3, 0.0, 0.3, -0.2, 0.1, -0.5, 0.2, -0.1,
  0.0, 0.3, -0.2, 0.1, -0.4, 0.2, 0.0, -0.1, 0.3, -0.3, 0.1, -0.2, 0.4, 0.0
];

const titles = ['VQ-VAE Dense Layers Mean', 'VQ-VAE Dense Layers Variance',
                'VQ-VAE Dense Layers Skewness', 'VQ-VAE Dense Layers Kurtosis'];
const xTicks = [0, 100, 200, 300, 400];
const meanTicks = [-0.002, -0.001, 0, 0.001, 0.002, 0.003, 0.004];
const varTicks = [0.005, 0.010, 0.015, 0.020, 0.025, 0.030];
const skewTicks = [-4, -2, 0, 2, 4];
const kurtTicks = [0, 10, 20, 30, 40, 50];

const FONT = 'DejaVu Sans';
const minus = s => s.replace('-', '\u2212');

const grids = [
  { left: 77, top: 37, width: 421, height: 332 },
  { left: 563, top: 37, width: 422, height: 332 },
  { left: 77, top: 431, width: 421, height: 331 },
  { left: 563, top: 431, width: 422, height: 331 }
];
// panel setup: y range (matplotlib autoscale), ticks and label format
const panels = [
  { real: meanReal, synth: meanSynth, ymin: -0.00274, ymax: 0.00404, ticks: meanTicks, fmt: v => minus(v.toFixed(3)) },
  { real: varReal, synth: varSynth, ymin: 0.00464, ymax: 0.03482, ticks: varTicks, fmt: v => v.toFixed(3) },
  { real: skewReal, synth: skewSynth, ymin: -5.99, ymax: 5.57, ticks: skewTicks, fmt: v => minus(String(v)) },
  { real: kurtReal, synth: kurtSynth, ymin: -3.47, ymax: 56.9, ticks: kurtTicks, fmt: v => String(v) }
];

const chart = echarts.init(document.getElementById('chart'));

const axisCommon = {
  splitLine: { show: false },
  axisLine: { show: true, onZero: false, lineStyle: { color: '#000', width: 1 } },
  axisLabel: { color: '#000', fontSize: 14, fontFamily: FONT, margin: 8 }
};

const option = {
  animation: false,
  backgroundColor: '#fff',
  textStyle: { fontFamily: FONT },
  title: titles.map((t, i) => ({
    text: t,
    left: grids[i].left + grids[i].width / 2,
    top: grids[i].top - 25,
    textAlign: 'center',
    padding: 0,
    textStyle: { fontSize: 17, fontWeight: 'normal', color: '#000', fontFamily: FONT }
  })),
  legend: grids.map(g => ({
    orient: 'vertical',
    right: 1000 - (g.left + g.width) + 7,
    top: g.top + 7,
    data: ['real-0', 'synth'],
    selectedMode: false,
    icon: 'circle',
    itemWidth: 3,
    itemHeight: 3,
    itemGap: 5,
    padding: [5, 7, 5, 19],
    borderColor: '#cccccc',
    borderWidth: 1,
    borderRadius: 3,
    backgroundColor: 'rgba(255,255,255,0.8)',
    textStyle: { fontSize: 14, color: '#000', fontFamily: FONT, lineHeight: 15, padding: [0, 0, 0, 18] }
  })),
  grid: grids.map(g => Object.assign({
    show: true, borderColor: '#000', borderWidth: 1,
    backgroundColor: 'transparent', containLabel: false, outerBoundsMode: 'none'
  }, g)),
  xAxis: grids.map((g, i) => Object.assign({}, axisCommon, {
    type: 'value', gridIndex: i, min: -21.7, max: 454.7,
    axisTick: { show: true, length: 5, customValues: xTicks, lineStyle: { color: '#000' } },
    axisLabel: Object.assign({}, axisCommon.axisLabel, { customValues: xTicks, formatter: v => String(v) })
  })),
  yAxis: panels.map((p, i) => Object.assign({}, axisCommon, {
    type: 'value', gridIndex: i, min: p.ymin, max: p.ymax,
    axisTick: { show: true, length: 5, customValues: p.ticks, lineStyle: { color: '#000' } },
    axisLabel: Object.assign({}, axisCommon.axisLabel, { customValues: p.ticks, formatter: p.fmt })
  })),
  series: []
};

panels.forEach((p, i) => {
  option.series.push({
    name: 'real-0', type: 'scatter', xAxisIndex: i, yAxisIndex: i,
    symbolSize: 3.5, itemStyle: { color: '#ff0000', opacity: 1 },
    data: p.real.map((v, k) => [k, v])
  });
  option.series.push({
    name: 'synth', type: 'scatter', xAxisIndex: i, yAxisIndex: i,
    symbolSize: 3.5, itemStyle: { color: '#0000ff', opacity: 1 },
    data: p.synth.map((v, k) => [k, v])
  });
});

chart.setOption(option);
</script>
</body>
</html>
